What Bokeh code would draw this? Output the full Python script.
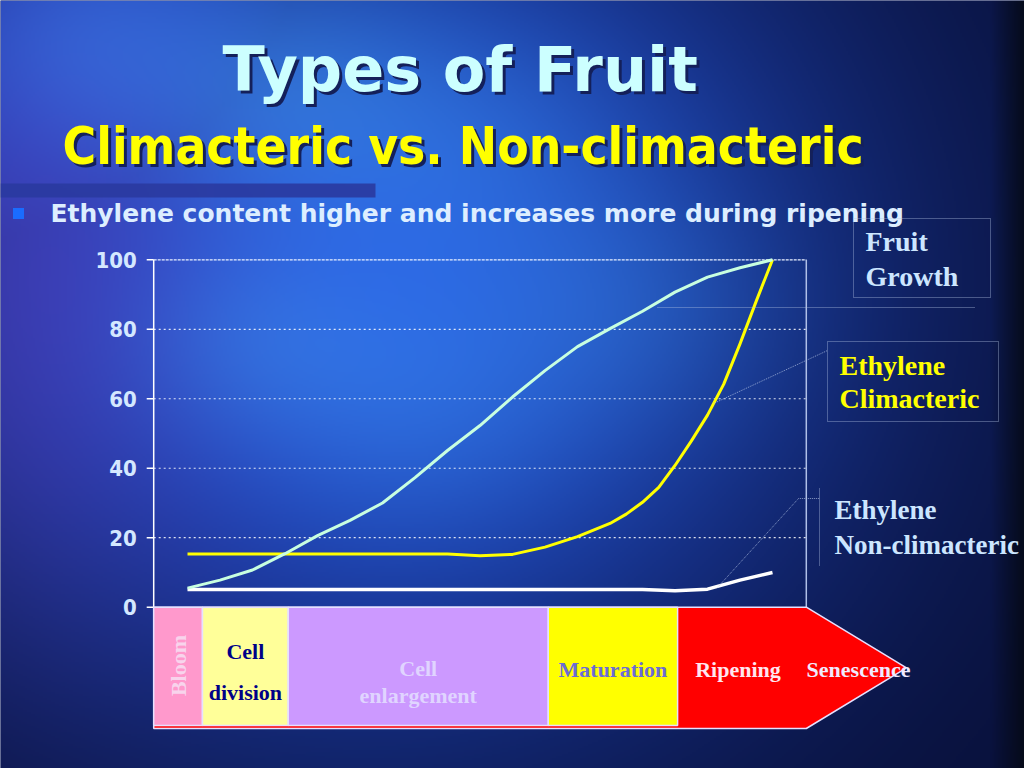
import numpy as np
from bokeh.plotting import figure
from bokeh.models import Range1d
from bokeh.core.properties import value
from bokeh.embed import file_html
from bokeh.resources import INLINE

# ---------------- data ----------------
growth_time = [0, 0.5, 1, 1.5, 2, 2.5, 3, 3.5, 4, 4.5, 5, 5.5, 6, 6.5, 7, 7.5, 8, 8.5, 9]
fruit_growth = [5.5, 7.8, 10.7, 15.4, 20.6, 25, 30, 37.3, 45.1, 52.3, 60.5, 68.1,
                75, 80.2, 85.2, 90.7, 95, 97.7, 100]
climacteric_time = [0, 0.5, 1, 1.5, 2, 2.5, 3, 3.5, 4, 4.5, 5, 5.5, 6, 6.5,
                    6.75, 7, 7.25, 7.5, 7.75, 8, 8.25, 8.5, 8.75, 9]
ethylene_climacteric = [15.3, 15.3, 15.3, 15.3, 15.3, 15.3, 15.3, 15.3, 15.3, 14.8,
                        15.2, 17.3, 20.3, 24.1, 26.8, 30.2, 34.5, 40.8, 47.8, 55.3,
                        64.2, 75.8, 88.1, 100]
nonclimacteric_time = [0, 0.5, 1, 1.5, 2, 2.5, 3, 3.5, 4, 4.5, 5, 5.5, 6, 6.5, 7,
                       7.5, 8, 8.5, 9]
ethylene_nonclimacteric = [5.1, 5.1, 5.1, 5.1, 5.1, 5.1, 5.1, 5.1, 5.1, 5.1,
                           5.1, 5.1, 5.1, 5.1, 5.1, 4.7, 5.2, 7.8, 10]
y_ticks = [0, 20, 40, 60, 80, 100]
y_tick_labels = ["0", "20", "40", "60", "80", "100"]
grid_levels = [20, 40, 60, 80]

stage_names = ["Bloom", "Cell division", "Cell enlargement", "Maturation", "Ripening"]
stage_start = [-0.52, 0.23, 1.55, 5.55, 7.54]
stage_end = [0.23, 1.55, 5.55, 7.54, 9.52]
stage_colors = ["#ff99cc", "#ffff99", "#cc99ff", "#ffff00", "#ff0000"]
last_stage_label = "Senescence"

title_text = "Types of Fruit"
subtitle_text = "Climacteric vs.  Non-climacteric"
bullet_text = "Ethylene content higher and increases more during ripening"

# ---------------- geometry ----------------
W, H = 1024, 768
X0_PX, PX_PER_X = 187.0, 65.0
Y0_PX, PX_PER_Y = 606.7, 3.474


def xd(sx):
    return (sx - X0_PX) / PX_PER_X


def yd(sy):
    return (Y0_PX - sy) / PX_PER_Y


X_MIN, X_MAX = -0.52, 9.52
Y_MIN, Y_MAX = 0, 100
BAND_BOTTOM = yd(725)
ARROW_BOTTOM = yd(728)
ARROW_TIP = xd(906)

p = figure(width=W, height=H, output_backend="svg", toolbar_location=None,
           x_range=Range1d(xd(0), xd(W)), y_range=Range1d(yd(H), yd(0)),
           x_axis_location=None, y_axis_location=None, min_border=0)
p.outline_line_color = None
p.xgrid.visible = False
p.ygrid.visible = False
p.background_fill_color = "#0c1a5a"
p.border_fill_color = "#0c1a5a"

# ---------------- background ----------------
nx, ny = 512, 384
cols = (np.arange(nx) + 0.5) * (W / nx)
rows = H - (np.arange(ny) + 0.5) * (H / ny)
SX, SY = np.meshgrid(cols, rows)


def blob(cx, cy, rx, ry):
    return np.exp(-(((SX - cx) / rx) ** 2 + ((SY - cy) / ry) ** 2) / 2)


dark = np.array([8, 14, 52], dtype=float)
bright = np.array([36, 84, 224], dtype=float)
w = np.maximum(blob(380, 280, 330, 320), 0.85 * blob(120, 60, 260, 200))
rgb = dark + (bright - dark) * w[..., None]
wv = 0.5 * blob(30, 280, 150, 230)
rgb = rgb * (1 - wv[..., None]) + np.array([92, 66, 205]) * wv[..., None]
for cx, cy, r, a in [(290, 95, 110, 0.35), (470, 150, 120, 0.22), (420, 400, 120, 0.25),
                     (620, 310, 110, 0.2), (260, 340, 90, 0.25), (90, 40, 90, 0.2)]:
    wc = a * blob(cx, cy, r, r * 0.8)
    rgb = rgb * (1 - wc[..., None]) + np.array([70, 175, 245]) * wc[..., None]
edge = np.clip((SX - 990) / 34, 0, 1) * 0.8
rgb = rgb * (1 - edge[..., None]) + np.array([4, 8, 16]) * edge[..., None]
img = np.empty((ny, nx), dtype=np.uint32)
view = img.view(dtype=np.uint8).reshape((ny, nx, 4))
view[..., 0] = np.clip(rgb[..., 0], 0, 255)
view[..., 1] = np.clip(rgb[..., 1], 0, 255)
view[..., 2] = np.clip(rgb[..., 2], 0, 255)
view[..., 3] = 255
p.image_rgba(image=[img], x=xd(0), y=yd(H), dw=xd(W) - xd(0), dh=yd(0) - yd(H))

# ---------------- titles ----------------
WIDE = value("DejaVu Sans")
COND = value("DejaVu Sans Condensed")
MID = dict(text_baseline="middle")
p.quad(left=[xd(0)], right=[xd(375)], bottom=[yd(197)], top=[yd(183)],
       fill_color="#2a3aa0", fill_alpha=0.9, line_color=None)
for off, col in [(3, "#14205a"), (0, "#ccffff")]:
    p.text(x=[xd(222)], y=[yd(69)], text=[title_text], x_offset=off, y_offset=off,
           text_font=WIDE, text_font_size=value("62px"), text_font_style="bold",
           text_color=col, text_align="left", **MID)
for off, col in [(3, "#14205a"), (0, "#ffff00")]:
    p.text(x=[xd(62)], y=[yd(146)], text=[subtitle_text], x_offset=off, y_offset=off,
           text_font=COND, text_font_size=value("51px"), text_font_style="bold",
           text_color=col, text_align="left", **MID)
p.scatter(x=[xd(18)], y=[yd(213)], marker="square", size=11,
          fill_color="#1a6cff", line_color=None)
p.text(x=[xd(50)], y=[yd(213)], text=[bullet_text],
       text_font=WIDE, text_font_size=value("25px"), text_font_style="bold",
       text_color="#ddeeff", text_align="left", **MID)

# ---------------- plot area frame, grid, axis ----------------
p.segment(x0=[X_MIN] * len(grid_levels), x1=[X_MAX] * len(grid_levels),
          y0=grid_levels, y1=grid_levels, line_color="#ffffff", line_alpha=0.85,
          line_width=1.2, line_dash="2 3")
p.segment(x0=[X_MIN], x1=[X_MAX], y0=[Y_MAX], y1=[Y_MAX], line_color="#e8f0ff",
          line_width=1.2, line_dash="3 1")
p.segment(x0=[X_MAX], x1=[X_MAX], y0=[Y_MIN], y1=[Y_MAX], line_color="#b0c0e8",
          line_width=1.5)
p.segment(x0=[X_MIN], x1=[X_MIN], y0=[Y_MIN], y1=[Y_MAX], line_color="#ffffff",
          line_width=1.5)
p.segment(x0=[X_MIN - 7 / PX_PER_X] * len(y_ticks), x1=[X_MIN] * len(y_ticks),
          y0=y_ticks, y1=y_ticks, line_color="#ffffff", line_width=1.5)
p.text(x=[X_MIN] * len(y_ticks), y=y_ticks, text=y_tick_labels, x_offset=-17,
       text_font=COND, text_font_size=value("22px"), text_font_style="bold",
       text_color="#d4e8ff", text_align="right", **MID)

# ---------------- stage band ----------------
p.patch(x=[X_MIN, stage_end[-1], ARROW_TIP, stage_end[-1], X_MIN],
        y=[Y_MIN, Y_MIN, (Y_MIN + ARROW_BOTTOM) / 2, ARROW_BOTTOM, ARROW_BOTTOM],
        fill_color=stage_colors[-1], line_color="#e6e0ff", line_width=1.5)
p.quad(left=stage_start[:-1], right=stage_end[:-1], top=[Y_MIN] * 4,
       bottom=[BAND_BOTTOM] * 4, fill_color=stage_colors[:-1],
       line_color="#e6e0ff", line_width=1.5)
centers = [(a + b) / 2 for a, b in zip(stage_start, stage_end)]
SERIF = value("Liberation Serif")
STAGE_FONT = dict(text_font=SERIF, text_font_size=value("22px"), text_font_style="bold",
                  text_align="center", text_baseline="middle")
p.text(x=[centers[0]], y=[yd(665)], text=[stage_names[0]], angle=np.pi / 2,
       text_color="#f8d4ec", **STAGE_FONT)
cd = stage_names[1].split(" ")
p.text(x=[centers[1]] * 2, y=[yd(651), yd(692)], text=cd,
       text_color="#000088", **STAGE_FONT)
ce = stage_names[2].split(" ")
p.text(x=[centers[2]] * 2, y=[yd(668), yd(695)], text=ce,
       text_color="#e0d4ff", **STAGE_FONT)
p.text(x=[centers[3]], y=[yd(669)], text=[stage_names[3]],
       text_color="#6b6bd6", **STAGE_FONT)
p.text(x=[xd(737.5)], y=[yd(669)], text=[stage_names[4]],
       text_color="#ffe6f0", **STAGE_FONT)
p.text(x=[xd(858)], y=[yd(669)], text=[last_stage_label],
       text_color="#f0eaff", **STAGE_FONT)

# ---------------- curves ----------------
p.line(nonclimacteric_time, ethylene_nonclimacteric, line_color="#ffffff",
       line_width=3.5, line_join="round")
p.line(climacteric_time, ethylene_climacteric, line_color="#ffff00", line_width=3,
       line_join="round")
p.line(growth_time, fruit_growth, line_color="#c8ffe0", line_width=3, line_join="round")

# ---------------- callouts ----------------
LEAD = dict(line_color="#b4c4e4", line_alpha=0.75, line_width=1, line_dash="1 1")
p.segment(x0=[xd(657)], x1=[xd(975)], y0=[yd(307)], y1=[yd(307)], **LEAD)
p.segment(x0=[xd(713)], x1=[xd(827)], y0=[yd(403)], y1=[yd(350)], **LEAD)
p.line(x=[xd(717), xd(798), xd(819)], y=[yd(587), yd(498), yd(498)], **LEAD)
p.quad(left=[xd(853), xd(827)], right=[xd(990), xd(998)],
       top=[yd(218), yd(341)], bottom=[yd(297), yd(421)],
       fill_color=None, **LEAD)
p.segment(x0=[xd(819)], x1=[xd(819)], y0=[yd(488)], y1=[yd(566)], **LEAD)

LEG_FONT = dict(text_font=SERIF, text_font_style="bold",
                text_align="left", text_baseline="middle")
p.text(x=[xd(865)] * 2, y=[yd(241), yd(276)], text=["Fruit", "Growth"],
       text_color="#cce6ff", text_font_size=value("28px"), **LEG_FONT)
p.text(x=[xd(839)] * 2, y=[yd(365), yd(398)], text=["Ethylene", "Climacteric"],
       text_color="#ffff00", text_font_size=value("28px"), **LEG_FONT)
p.text(x=[xd(834)] * 2, y=[yd(509), yd(544)], text=["Ethylene", "Non-climacteric"],
       text_color="#cce6ff", text_font_size=value("27px"), **LEG_FONT)

open("out.html", "w").write(file_html(p, INLINE))
